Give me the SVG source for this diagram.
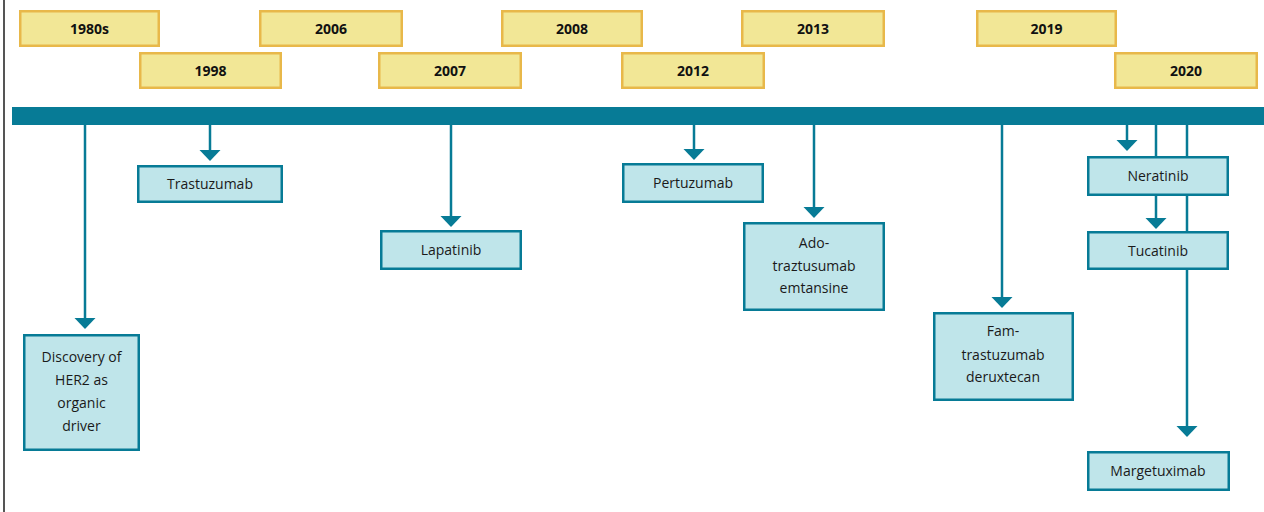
<svg xmlns="http://www.w3.org/2000/svg" width="1264" height="512" viewBox="0 0 1264 512">
  <style>
    .year rect { fill: #f2e796; stroke: #e8b84a; stroke-width: 2.5; }
    .year text { font-family: "Open Sans", "Liberation Sans", sans-serif; font-size: 14px; font-weight: bold; fill: #111; text-anchor: middle; }
    .drug rect { fill: #bfe5ea; stroke: #077b96; stroke-width: 2.5; }
    .drug text { font-family: "Open Sans", "Liberation Sans", sans-serif; font-size: 14px; fill: #1a1a1a; text-anchor: middle; }
    .conn line { stroke: #077b96; stroke-width: 2.5; fill: none; }
    .conn polygon { fill: #077b96; }
  </style>
  <rect width="1264" height="512" fill="#ffffff"/>
  <!-- page edge -->
  <line x1="4" y1="0" x2="4" y2="512" stroke="#555555" stroke-width="2"/>

  <!-- year labels -->
  <g id="y1980s" class="year"><rect x="20.25" y="11.25" width="138.5" height="34.5"/><text x="89.5" y="33.5">1980s</text></g>
  <g id="y1998" class="year"><rect x="140.25" y="53.25" width="140.5" height="34.5"/><text x="210.5" y="75.5">1998</text></g>
  <g id="y2006" class="year"><rect x="260.25" y="11.25" width="141.5" height="34.5"/><text x="331" y="33.5">2006</text></g>
  <g id="y2007" class="year"><rect x="379.25" y="53.25" width="141.5" height="34.5"/><text x="450" y="75.5">2007</text></g>
  <g id="y2008" class="year"><rect x="502.25" y="11.25" width="139.5" height="34.5"/><text x="572" y="33.5">2008</text></g>
  <g id="y2012" class="year"><rect x="622.25" y="53.25" width="141.5" height="34.5"/><text x="693" y="75.5">2012</text></g>
  <g id="y2013" class="year"><rect x="742.25" y="11.25" width="141.5" height="34.5"/><text x="813" y="33.5">2013</text></g>
  <g id="y2019" class="year"><rect x="977.25" y="11.25" width="138.5" height="34.5"/><text x="1046.5" y="33.5">2019</text></g>
  <g id="y2020" class="year"><rect x="1115.25" y="53.25" width="141.5" height="34.5"/><text x="1186" y="75.5">2020</text></g>

  <!-- timeline bar -->
  <rect id="timeline" x="12" y="107" width="1252" height="18" fill="#077b96"/>

  <!-- connectors -->
  <g id="connectors" class="conn">
    <line x1="85" y1="125" x2="85" y2="320"/><polygon points="74.5,318 95.5,318 85,329"/>
    <line x1="210" y1="125" x2="210" y2="152"/><polygon points="199.5,150 220.5,150 210,161"/>
    <line x1="451" y1="125" x2="451" y2="218"/><polygon points="440.5,216 461.5,216 451,227"/>
    <line x1="694" y1="125" x2="694" y2="151"/><polygon points="683.5,149 704.5,149 694,160"/>
    <line x1="814" y1="125" x2="814" y2="209"/><polygon points="803.5,207 824.5,207 814,218"/>
    <line x1="1002" y1="125" x2="1002" y2="299"/><polygon points="991.5,297 1012.5,297 1002,308"/>
    <line x1="1127" y1="125" x2="1127" y2="142"/><polygon points="1116.5,140 1137.5,140 1127,151"/>
    <line x1="1156" y1="125" x2="1156" y2="157"/>
    <line x1="1156" y1="195" x2="1156" y2="220"/><polygon points="1145.5,218 1166.5,218 1156,229"/>
    <line x1="1187" y1="125" x2="1187" y2="428"/><polygon points="1176.5,426 1197.5,426 1187,437"/>
  </g>

  <!-- drug / event nodes -->
  <g id="discovery" class="drug"><rect x="24.25" y="335.25" width="114.5" height="114.5"/>
    <text x="81.5" y="362">Discovery of</text><text x="81.5" y="385">HER2 as</text><text x="81.5" y="408">organic</text><text x="81.5" y="431">driver</text></g>
  <g id="trastuzumab" class="drug"><rect x="138.25" y="166.25" width="143.5" height="35.5"/><text x="210" y="189">Trastuzumab</text></g>
  <g id="lapatinib" class="drug"><rect x="381.25" y="231.25" width="139.5" height="37.5"/><text x="451" y="255">Lapatinib</text></g>
  <g id="pertuzumab" class="drug"><rect x="623.25" y="164.25" width="139.5" height="37.5"/><text x="693" y="188">Pertuzumab</text></g>
  <g id="ado-trastuzumab" class="drug"><rect x="744.25" y="223.25" width="139.5" height="86.5"/>
    <text x="814" y="248">Ado-</text><text x="814" y="271">traztusumab</text><text x="814" y="293">emtansine</text></g>
  <g id="fam-trastuzumab" class="drug"><rect x="934.25" y="313.25" width="138.5" height="86.5"/>
    <text x="1003" y="336">Fam-</text><text x="1003" y="360">trastuzumab</text><text x="1003" y="382">deruxtecan</text></g>
  <g id="neratinib" class="drug"><rect x="1088.25" y="157.25" width="139.5" height="37.5"/><text x="1158" y="181">Neratinib</text></g>
  <g id="tucatinib" class="drug"><rect x="1088.25" y="232.25" width="139.5" height="36.5"/><text x="1158" y="255.5">Tucatinib</text></g>
  <g id="margetuximab" class="drug"><rect x="1088.25" y="452.25" width="140.5" height="37.5"/><text x="1158" y="476">Margetuximab</text></g>
</svg>
